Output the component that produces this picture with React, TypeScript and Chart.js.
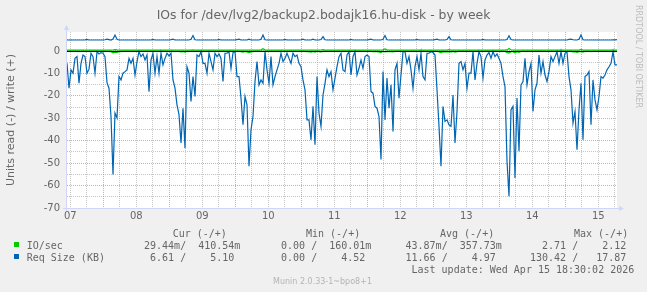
import React, { useEffect, useRef } from 'react';
import { Chart, registerables } from 'chart.js';

Chart.register(...registerables);

// time axis: hours after Apr 07 00:00, one sample every STEP_HOURS
const START_HOUR = 10.8;
const STEP_HOURS = 0.72727;
const END_HOUR = 210.8;
const dayLabels = ['07', '08', '09', '10', '11', '12', '13', '14', '15'];
const yMin = -70;
const yMax = 8.47;
const yGridValues = [-70, -65, -60, -55, -50, -45, -40, -35, -30, -25, -20, -15, -10, -5, 0, 5];
const xGridHours = [12, 18, 24, 30, 36, 42, 48, 54, 60, 66, 72, 78, 84, 90, 96, 102, 108, 114, 120, 126, 132, 138, 144, 150, 156, 162, 168, 174, 180, 186, 192, 198, 204, 210];

// Req Size (KB), read (drawn negative)
const reqSizeRead = [
  -5.5, -16.6, -8.4, -9.9, -3.3, -2.5, -14.4, -5.5, -1.8, -2.5, -9.9, -8.1, -1.0, -2.5, -9.9, -0.3, -1.3, -0.7, -1.0, -2.5, -14.1, -16.6, -29.2,
  -55.1, -27.7, -29.9, -11.4, -12.9, -9.9, -9.2, -8.4, -3.3, -5.5, -3.3, -10.7, -4.7, -0.3, -2.5, -1.3, -4.0, -1.8, -18.1, -4.0, -1.0, -9.9, -2.5,
  -9.9, -1.0, -6.2, -3.3, -1.0, -2.2, -1.0, -12.9, -16.6, -24.0, -28.4, -41.0, -25.5, -43.3, -7.0, -9.9, -22.5, -11.4, -20.3, -1.8, -2.5, -0.3, -5.5, -5.5,
  -9.9, -1.0, -4.7, -8.4, -1.0, -2.5, -1.3, -3.3, -13.6, -1.0, -1.0, -0.3, -7.7, -0.7, -0.3, -11.4, -11.4, -21.0, -32.9, -20.3, -24.0, -51.4, -35.1,
  -29.2, -13.6, -4.7, -15.1, -12.9, -14.4, -0.3, -8.4, -14.4, -2.5, -15.1, -11.4, -8.4, -5.5, -1.0, -4.7, -3.3, -1.0, -3.3, -5.5, -1.0, -2.5, -1.8,
  -5.5, -7.0, -12.9, -17.3, -30.7, -30.7, -39.6, -24.7, -41.8, -11.4, -27.7, -33.6, -19.6, -14.4, -8.4, -11.4, -9.2, -17.3, -12.1, -7.0, -2.5,
  -1.0, -8.4, -9.2, -1.8, -0.3, -10.7, -2.5, -0.3, -10.7, -7.7, -4.0, -7.7, -2.5, -1.8, -2.5, -18.1, -18.8, -24.7, -25.5, -29.2, -48.4, -9.2, -30.7,
  -12.1, -25.5, -15.1, -35.9, -8.4, -5.5, -21.0, -10.7, -0.3, -0.3, -5.5, -2.5, -8.4, -16.6, -7.0, -2.5, -8.4, -1.0, -11.4, -12.9, -1.0, -1.0, -0.3,
  -0.7, -1.8, -17.3, -33.6, -51.4, -24.7, -31.4, -30.7, -32.9, -33.6, -19.6, -41.0, -27.0, -5.5, -4.7, -8.4, -5.5, -16.6, -9.9, -9.9, -0.3, -12.9, -5.5, -0.3,
  -2.5, -12.1, -4.0, -1.8, -0.7, -3.3, -0.3, -2.5, -1.3, -3.3, -5.5, -11.4, -15.9, -49.2, -64.7, -26.2, -24.7, -56.6, -21.0, -44.7, -15.1, -13.6, -3.3,
  -15.1, -9.2, -5.5, -27.0, -17.3, -14.4, -1.8, -9.9, -4.7, -10.7, -13.6, -9.2, -2.5, -4.7, -2.5, -0.3, -5.5, -0.3, -5.5, -1.0, -0.3, -11.4, -17.3,
  -32.1, -27.0, -44.0, -26.2, -14.4, -39.6, -11.4, -10.7, -9.2, -32.9, -12.9, -21.8, -26.2, -20.3, -11.4, -12.1, -10.7, -8.4, -7.0, -5.5, -0.3, -6.2, -6.2,
];

// Req Size (KB), write
const reqSizeWrite = [
  4.9, 4.9, 4.9, 4.9, 4.9, 4.9, 4.9, 4.9, 4.9, 4.95, 5.2, 4.9, 4.9, 4.9, 4.9, 4.9, 4.9, 4.9, 4.9, 5.0, 5.3, 5.1, 4.9,
  5.3, 7.1, 5.2, 4.9, 4.9, 4.9, 4.9, 4.9, 4.9, 4.9, 4.9, 4.9, 4.9, 4.9, 4.9, 4.9, 4.9, 4.9, 4.9, 4.9, 5.2, 4.9, 4.9,
  4.9, 4.9, 4.9, 4.9, 4.9, 4.9, 5.05, 5.3, 4.9, 4.9, 4.9, 4.9, 4.9, 4.9, 4.9, 4.9, 5.2, 6.9, 5.0, 4.9, 4.9, 4.9, 4.9,
  4.9, 4.9, 4.9, 4.9, 4.9, 4.9, 4.9, 5.2, 4.9, 4.9, 4.9, 4.9, 4.9, 4.9, 4.9, 4.9, 5.1, 5.3, 4.9, 4.9, 4.9, 4.9, 5.3,
  4.9, 4.9, 4.9, 4.9, 4.9, 5.2, 7.1, 5.0, 4.9, 4.9, 4.9, 4.9, 4.9, 4.9, 4.9, 4.9, 4.9, 5.2, 4.9, 4.9, 4.9, 4.9, 4.9,
  4.9, 4.9, 5.0, 5.3, 4.9, 4.9, 4.9, 4.9, 5.3, 4.9, 4.9, 4.9, 5.1, 6.4, 5.0, 4.9, 4.9, 4.9, 4.9, 4.9, 4.9, 4.9, 4.9,
  4.9, 4.9, 4.9, 4.9, 5.2, 4.9, 4.9, 4.9, 4.9, 4.9, 4.9, 4.9, 4.9, 5.1, 5.3, 4.9, 4.9, 4.9, 4.9, 4.9, 5.2, 6.9, 5.0,
  4.9, 4.9, 4.9, 4.9, 4.9, 4.9, 4.9, 4.9, 4.9, 4.9, 4.9, 4.9, 4.9, 4.9, 5.2, 4.9, 4.9, 4.9, 4.9, 4.9, 4.9, 4.9, 4.9,
  5.1, 5.3, 4.9, 4.9, 4.9, 4.9, 5.1, 6.4, 5.0, 4.9, 4.9, 4.9, 4.9, 4.9, 4.9, 4.9, 4.9, 4.9, 4.9, 4.9, 4.9, 4.9, 4.9,
  4.9, 5.2, 4.9, 4.9, 4.9, 4.9, 4.9, 4.9, 4.9, 4.9, 4.9, 4.9, 4.9, 5.1, 6.8, 5.1, 4.9, 4.9, 4.9, 4.9, 4.9, 4.9, 4.9,
  4.9, 4.9, 4.9, 4.9, 4.9, 4.9, 4.9, 4.9, 4.9, 4.9, 4.9, 4.9, 4.9, 4.9, 4.9, 4.9, 4.9, 4.9, 4.9, 4.9, 4.9, 5.2, 5.3,
  5.0, 4.9, 4.9, 5.2, 7.1, 5.0, 4.9, 4.9, 4.9, 4.9, 4.9, 4.9, 4.9, 4.9, 4.9, 4.9, 4.9, 4.9, 4.9, 4.9, 4.95, 5.0, 5.1,
];

// IO/sec, read (drawn negative)
const ioRead = [
  -0.03, -0.04, -0.03, -0.03, -0.02, -0.03, -0.03, -0.04, -0.03, -0.03, -0.03, -0.03, -0.02, -0.03, -0.03, -0.03, -0.03, -0.03, -0.02, -0.03, -0.1, -0.15, -0.3,
  -0.8, -0.5, -0.6, -0.3, -0.1, -0.05, -0.04, -0.03, -0.03, -0.03, -0.04, -0.03, -0.02, -0.03, -0.03, -0.03, -0.03, -0.04, -0.1, -0.03, -0.03, -0.03, -0.03,
  -0.03, -0.02, -0.03, -0.03, -0.02, -0.03, -0.03, -0.1, -0.15, -0.2, -0.2, -0.4, -0.2, -0.5, -0.1, -0.1, -0.2, -0.1, -0.15, -0.03, -0.03, -0.02, -0.03,
  -0.03, -0.04, -0.03, -0.03, -0.03, -0.02, -0.03, -0.03, -0.03, -0.05, -0.03, -0.02, -0.03, -0.03, -0.02, -0.03, -0.1, -0.1, -0.3, -0.5, -0.2, -0.4, -0.7,
  -0.4, -0.3, -0.1, -0.05, -0.1, -0.1, -0.1, -0.03, -0.05, -0.1, -0.03, -0.1, -0.05, -0.04, -0.03, -0.03, -0.03, -0.03, -0.03, -0.03, -0.03, -0.02, -0.03,
  -0.03, -0.03, -0.04, -0.1, -0.15, -0.3, -0.3, -0.5, -0.2, -0.5, -0.1, -0.3, -0.4, -0.2, -0.1, -0.05, -0.05, -0.04, -0.1, -0.05, -0.04, -0.03, -0.03,
  -0.04, -0.05, -0.03, -0.02, -0.05, -0.03, -0.02, -0.05, -0.04, -0.03, -0.04, -0.03, -0.03, -0.03, -0.2, -0.3, -0.3, -0.3, -0.4, -0.7, -0.1, -0.4, -0.2,
  -0.3, -0.2, -0.4, -0.1, -0.05, -0.2, -0.05, -0.02, -0.02, -0.03, -0.03, -0.04, -0.1, -0.04, -0.03, -0.04, -0.03, -0.05, -0.06, -0.03, -0.03, -0.02, -0.02,
  -0.03, -0.2, -0.4, -0.7, -0.3, -0.4, -0.4, -0.4, -0.4, -0.2, -0.5, -0.3, -0.04, -0.03, -0.04, -0.03, -0.1, -0.05, -0.05, -0.02, -0.06, -0.03, -0.02,
  -0.03, -0.06, -0.03, -0.03, -0.02, -0.03, -0.02, -0.03, -0.03, -0.03, -0.04, -0.08, -0.2, -0.6, -0.9, -0.3, -0.3, -0.8, -0.3, -0.6, -0.2, -0.1, -0.03,
  -0.1, -0.05, -0.03, -0.15, -0.1, -0.08, -0.03, -0.05, -0.03, -0.05, -0.08, -0.05, -0.03, -0.03, -0.03, -0.02, -0.03, -0.02, -0.03, -0.03, -0.02, -0.06, -0.2,
  -0.4, -0.3, -0.6, -0.3, -0.2, -0.5, -0.1, -0.08, -0.06, -0.3, -0.08, -0.1, -0.15, -0.1, -0.06, -0.05, -0.06, -0.04, -0.03, -0.03, -0.02, -0.03, -0.03,
];

// IO/sec, write
const ioWrite = [
  0.36, 0.35, 0.36, 0.37, 0.36, 0.36, 0.35, 0.36, 0.36, 0.37, 0.38, 0.36, 0.35, 0.36, 0.36, 0.37, 0.36, 0.36, 0.35, 0.36, 0.38, 0.37, 0.4,
  0.45, 0.62, 0.48, 0.38, 0.37, 0.36, 0.36, 0.35, 0.36, 0.36, 0.37, 0.36, 0.35, 0.36, 0.36, 0.36, 0.37, 0.36, 0.38, 0.36, 0.36, 0.37, 0.36,
  0.36, 0.35, 0.36, 0.36, 0.37, 0.36, 0.36, 0.38, 0.39, 0.37, 0.38, 0.42, 0.38, 0.4, 0.37, 0.38, 0.42, 0.52, 0.4, 0.36, 0.36, 0.35, 0.36,
  0.36, 0.36, 0.35, 0.36, 0.37, 0.36, 0.36, 0.37, 0.36, 0.36, 0.35, 0.36, 0.36, 0.37, 0.36, 0.36, 0.38, 0.38, 0.4, 0.42, 0.39, 0.41, 0.45,
  0.4, 0.38, 0.37, 0.36, 0.38, 0.5, 1.02, 0.55, 0.38, 0.37, 0.36, 0.37, 0.36, 0.36, 0.35, 0.36, 0.36, 0.37, 0.36, 0.36, 0.35, 0.36, 0.36,
  0.36, 0.37, 0.37, 0.38, 0.39, 0.4, 0.41, 0.42, 0.39, 0.43, 0.38, 0.4, 0.45, 0.62, 0.42, 0.37, 0.36, 0.37, 0.36, 0.36, 0.36, 0.35, 0.36,
  0.36, 0.37, 0.36, 0.35, 0.37, 0.36, 0.36, 0.36, 0.35, 0.36, 0.36, 0.37, 0.36, 0.37, 0.38, 0.39, 0.4, 0.41, 0.4, 0.45, 0.5, 0.92, 0.5,
  0.4, 0.38, 0.39, 0.37, 0.36, 0.37, 0.36, 0.35, 0.36, 0.36, 0.36, 0.37, 0.36, 0.36, 0.37, 0.36, 0.35, 0.36, 0.36, 0.36, 0.35, 0.36, 0.36,
  0.37, 0.38, 0.4, 0.42, 0.39, 0.4, 0.41, 0.63, 0.42, 0.39, 0.41, 0.38, 0.37, 0.36, 0.36, 0.37, 0.36, 0.36, 0.35, 0.36, 0.36, 0.37, 0.36,
  0.36, 0.37, 0.36, 0.35, 0.36, 0.36, 0.36, 0.37, 0.36, 0.36, 0.37, 0.38, 0.4, 0.5, 1.1, 0.55, 0.42, 0.45, 0.4, 0.41, 0.38, 0.37, 0.36,
  0.36, 0.37, 0.36, 0.38, 0.37, 0.36, 0.36, 0.35, 0.36, 0.36, 0.37, 0.36, 0.36, 0.35, 0.36, 0.36, 0.37, 0.36, 0.36, 0.35, 0.36, 0.37, 0.39,
  0.41, 0.4, 0.43, 0.42, 0.7, 0.42, 0.38, 0.37, 0.37, 0.4, 0.37, 0.38, 0.39, 0.38, 0.37, 0.36, 0.37, 0.36, 0.36, 0.36, 0.38, 0.4, 0.41,
];

const GREEN = '#00cc00';
const BLUE = '#0066b3';
const FONT_COLOR = '#666666';
const AXIS_COLOR = '#cfd6f8';
const GRID_MINOR = 'rgba(140,140,140,0.5)';
const GRID_MAJOR = 'rgba(225,80,80,0.55)';

const legendHeaders = ['Cur (-/+)', 'Min (-/+)', 'Avg (-/+)', 'Max (-/+)'];
const ioStats = [' 29.44m/  410.54m', '  0.00 /  160.01m', ' 43.87m/  357.73m', '  2.71 /    2.12'];
const reqStats = ['  6.61 /    5.10', '  0.00 /    4.52', ' 11.66 /    4.97', '130.42 /   17.87'];

const toPoints = (vals: number[]) => vals.map((v, i) => ({ x: START_HOUR + i * STEP_HOURS, y: v }));

const bgPlugin = {
  id: 'muninBg',
  beforeDraw(chart: any) {
    const { ctx, chartArea } = chart;
    ctx.save();
    ctx.fillStyle = '#ffffff';
    ctx.fillRect(chartArea.left, chartArea.top, chartArea.right - chartArea.left, chartArea.bottom - chartArea.top);
    ctx.restore();
  },
};

const zeroLinePlugin = {
  id: 'muninZero',
  afterDatasetsDraw(chart: any) {
    const { ctx, chartArea } = chart;
    const y = Math.round(chart.scales.y.getPixelForValue(0)) + 0.5;
    ctx.save();
    ctx.strokeStyle = '#000000';
    ctx.lineWidth = 1;
    ctx.beginPath();
    ctx.moveTo(chartArea.left, y);
    ctx.lineTo(chartArea.right, y);
    ctx.stroke();
    ctx.restore();
  },
};

const axisPlugin = {
  id: 'muninAxis',
  afterDraw(chart: any) {
    const { ctx, chartArea } = chart;
    const ax = chartArea.left - 0.5;
    const ay = chartArea.bottom + 0.5;
    ctx.save();
    ctx.strokeStyle = AXIS_COLOR;
    ctx.fillStyle = AXIS_COLOR;
    ctx.lineWidth = 1;
    ctx.beginPath();
    ctx.moveTo(ax, chartArea.bottom + 3);
    ctx.lineTo(ax, chartArea.top - 4);
    ctx.moveTo(chartArea.left - 4, ay);
    ctx.lineTo(chartArea.right + 3, ay);
    ctx.stroke();
    ctx.beginPath();
    ctx.moveTo(ax - 2.5, chartArea.top - 2);
    ctx.lineTo(ax + 2.5, chartArea.top - 2);
    ctx.lineTo(ax, chartArea.top - 7);
    ctx.closePath();
    ctx.fill();
    ctx.beginPath();
    ctx.moveTo(chartArea.right + 2, ay - 2.5);
    ctx.lineTo(chartArea.right + 2, ay + 2.5);
    ctx.lineTo(chartArea.right + 7, ay);
    ctx.closePath();
    ctx.fill();
    ctx.restore();
  },
};

const textBase: React.CSSProperties = {
  position: 'absolute',
  whiteSpace: 'pre',
  color: FONT_COLOR,
  margin: 0,
};

const monoStyle = (left: number, top: number): React.CSSProperties => ({
  ...textBase,
  left,
  top,
  fontFamily: '"DejaVu Sans Mono", monospace',
  fontSize: 10,
  lineHeight: '12px',
});

export default function App() {
  const canvasRef = useRef<HTMLCanvasElement | null>(null);

  useEffect(() => {
    document.body.style.margin = '0';
    const canvas = canvasRef.current;
    if (!canvas) return;
    const chart = new Chart(canvas, {
      type: 'line',
      data: {
        datasets: [
          { label: 'Req Size (KB) read', data: toPoints(reqSizeRead), borderColor: BLUE, borderWidth: 1.2 },
          { label: 'Req Size (KB) write', data: toPoints(reqSizeWrite), borderColor: BLUE, borderWidth: 1.2 },
          { label: 'IO/sec read', data: toPoints(ioRead), borderColor: GREEN, borderWidth: 1.2 },
          { label: 'IO/sec write', data: toPoints(ioWrite), borderColor: GREEN, borderWidth: 1.2 },
        ],
      },
      options: {
        responsive: false,
        animation: false,
        devicePixelRatio: 1,
        events: [],
        layout: { padding: { top: 32, right: 30, left: 0, bottom: 0 } },
        elements: {
          point: { radius: 0, hoverRadius: 0 },
          line: { tension: 0, borderWidth: 1, fill: false },
        },
        plugins: {
          legend: { display: false },
          title: { display: false },
          tooltip: { enabled: false },
        },
        scales: {
          x: {
            type: 'linear',
            min: START_HOUR,
            max: END_HOUR,
            afterBuildTicks: (s: any) => {
              s.ticks = xGridHours.map((v) => ({ value: v }));
            },
            afterFit: (s: any) => {
              s.height = 84;
            },
            ticks: {
              autoSkip: false,
              maxRotation: 0,
              padding: 2.5,
              color: FONT_COLOR,
              font: { family: '"DejaVu Sans"', size: 10 },
              callback: (v: any) => {
                const h = Number(v);
                return h % 24 === 12 ? dayLabels[(h - 12) / 24] : '';
              },
            },
            grid: {
              drawTicks: false,
              lineWidth: 1,
              color: (c: any) => (c.tick && c.tick.value % 24 === 0 ? GRID_MAJOR : GRID_MINOR),
            },
            border: { display: false, dash: [1, 1] },
          },
          y: {
            type: 'linear',
            min: yMin,
            max: yMax,
            afterBuildTicks: (s: any) => {
              s.ticks = yGridValues.map((v) => ({ value: v }));
            },
            afterFit: (s: any) => {
              s.width = 67;
            },
            ticks: {
              autoSkip: false,
              padding: 7,
              color: FONT_COLOR,
              font: { family: '"DejaVu Sans"', size: 10 },
              callback: (v: any) => (Number(v) % 10 === 0 ? String(v) : ''),
            },
            grid: {
              drawTicks: false,
              lineWidth: 1,
              color: (c: any) => (c.tick && c.tick.value % 10 === 0 ? GRID_MAJOR : GRID_MINOR),
            },
            border: { display: false, dash: [1, 1] },
            title: {
              display: true,
              text: 'Units read (-) / write (+)',
              color: FONT_COLOR,
              font: { family: '"DejaVu Sans"', size: 11 },
              padding: { top: 5, bottom: 0 },
            },
          },
        },
      },
      plugins: [bgPlugin, zeroLinePlugin, axisPlugin],
    } as any);
    return () => chart.destroy();
  }, []);

  return (
    <div
      style={{
        position: 'fixed',
        left: 0,
        top: 0,
        width: 647,
        height: 292,
        background: '#f0f0f0',
        overflow: 'hidden',
      }}
    >
      <canvas
        ref={canvasRef}
        width={647}
        height={292}
        style={{ position: 'absolute', left: 0, top: 0, width: 647, height: 292 }}
      />
      <div
        style={{
          ...textBase,
          left: 0,
          top: 6.5,
          width: 647,
          textAlign: 'center',
          fontFamily: '"DejaVu Sans", sans-serif',
          fontSize: 12.4,
          lineHeight: '15px',
        }}
      >
        IOs for /dev/lvg2/backup2.bodajk16.hu-disk - by week
      </div>
      <div
        style={{
          ...textBase,
          left: 643.4,
          top: 5,
          color: '#bdbdbd',
          fontFamily: '"DejaVu Sans", sans-serif',
          fontSize: 8,
          lineHeight: '10px',
          transform: 'rotate(90deg)',
          transformOrigin: '0 0',
        }}
      >
        RRDTOOL / TOBI OETIKER
      </div>

      <div style={monoStyle(172.7, 228)}>{legendHeaders[0]}</div>
      <div style={monoStyle(306, 228)}>{legendHeaders[1]}</div>
      <div style={monoStyle(440, 228)}>{legendHeaders[2]}</div>
      <div style={monoStyle(574, 228)}>{legendHeaders[3]}</div>

      <div style={{ position: 'absolute', left: 14, top: 242, width: 5, height: 5, background: GREEN }} />
      <div style={monoStyle(26.7, 239.8)}>IO/sec</div>
      <div style={monoStyle(138, 239.8)}>{ioStats[0]}</div>
      <div style={monoStyle(269, 239.8)}>{ioStats[1]}</div>
      <div style={monoStyle(399.5, 239.8)}>{ioStats[2]}</div>
      <div style={monoStyle(530, 239.8)}>{ioStats[3]}</div>

      <div style={{ position: 'absolute', left: 14, top: 254, width: 5, height: 5, background: BLUE }} />
      <div style={monoStyle(26.7, 251.7)}>Req Size (KB)</div>
      <div style={monoStyle(138, 251.7)}>{reqStats[0]}</div>
      <div style={monoStyle(269, 251.7)}>{reqStats[1]}</div>
      <div style={monoStyle(399.5, 251.7)}>{reqStats[2]}</div>
      <div style={monoStyle(530, 251.7)}>{reqStats[3]}</div>

      <div style={monoStyle(411.5, 263.8)}>Last update: Wed Apr 15 18:30:02 2026</div>

      <div
        style={{
          ...textBase,
          left: 0,
          top: 276.7,
          width: 645,
          textAlign: 'center',
          color: '#b4b4b4',
          fontFamily: '"DejaVu Sans", sans-serif',
          fontSize: 8,
          lineHeight: '10px',
        }}
      >
        Munin 2.0.33-1~bpo8+1
      </div>
    </div>
  );
}
